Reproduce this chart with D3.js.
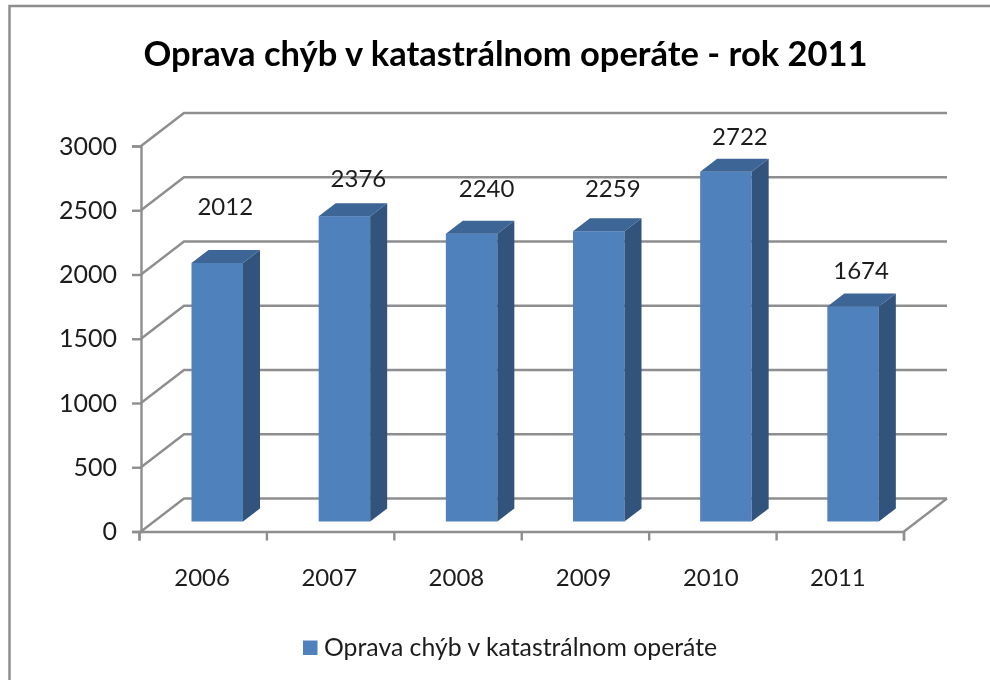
<!DOCTYPE html>
<html>
<head>
<meta charset="utf-8">
<script src="https://cdn.jsdelivr.net/npm/d3@7"></script>
<style>
  html, body { margin: 0; padding: 0; background: #fff; }
  svg { display: block; }
  text { font-family: Lato, "Open Sans", sans-serif; fill: #1c1c1c; }
</style>
</head>
<body>
<svg id="chart" width="990" height="680"></svg>
<script>
const years = ["2006", "2007", "2008", "2009", "2010", "2011"];
const values = [2012, 2376, 2240, 2259, 2722, 1674];
const yTicks = [0, 500, 1000, 1500, 2000, 2500, 3000];
const titleText = "Oprava chýb v katastrálnom operáte - rok 2011";
const seriesName = "Oprava chýb v katastrálnom operáte";

// the labels were placed by hand in the original, so they sit at uneven distances
const labelNudgeX = [8, 14, 15, 14, 14, 8];
const labelNudgeY = [-48, -29, -37, -34, -27, -27];

// 3d look: floor depth and bar depth in pixels
const depth = { x: 43, y: -33 };
const barDepth = { x: 17, y: -13 };
const barInset = { x: 50.5, y: -10 };
const barWidth = 51.5;
const gridColor = "#8e8e8e";

const x = d3.scaleBand().domain(years).range([141, 904]);
const y = d3.scaleLinear().domain([0, 3000]).range([531.5, 146]);

const svg = d3.select("#chart");

const defs = svg.append("defs");
defs.append("filter").attr("id", "soft")
  .append("feGaussianBlur").attr("stdDeviation", 0.45);

const root = svg.append("g").attr("filter", "url(#soft)");

// outer frame, cut off by the picture on the right and at the bottom
root.append("path")
  .attr("d", "M9.5,680V6H990")
  .attr("fill", "none")
  .attr("stroke", gridColor)
  .attr("stroke-width", 2.5);

root.append("text")
  .attr("x", 505.5)
  .attr("y", 66)
  .attr("text-anchor", "middle")
  .style("font-size", "34.5px")
  .style("font-weight", "bold")
  .style("fill", "#000")
  .text(titleText);

// back wall lines with the slanted part running to the front axis
const grid = root.append("g");
grid.selectAll("path")
  .data(yTicks)
  .join("path")
  .attr("d", d => `M${x.range()[0]},${y(d)}l${depth.x},${depth.y}H${x.range()[1] + depth.x}`)
  .attr("fill", "none")
  .attr("stroke", gridColor)
  .attr("stroke-width", 2.4);

// closing edge of the floor on the right
grid.append("path")
  .attr("d", `M${x.range()[1]},${y(0)}l${depth.x},${depth.y}`)
  .attr("fill", "none")
  .attr("stroke", gridColor)
  .attr("stroke-width", 2.4);

const yAxis = root.append("g")
  .attr("transform", `translate(${x.range()[0]},0)`)
  .call(d3.axisLeft(y).tickValues(yTicks).tickFormat(d3.format("d")).tickSize(9).tickPadding(15));

const xScaleTicks = d3.scalePoint().domain(d3.range(years.length + 1)).range([139, 903.5]);
const xAxis = root.append("g")
  .attr("transform", `translate(0,${y(0)})`)
  .call(d3.axisBottom(xScaleTicks).tickFormat("").tickSize(9));

[yAxis, xAxis].forEach(a => {
  a.selectAll("path, line").attr("stroke", gridColor).attr("stroke-width", 2.4);
});
yAxis.selectAll("text").style("font-size", "25px").style("fill", "#1c1c1c");

root.append("g").selectAll("text")
  .data(years)
  .join("text")
  .attr("x", d => x(d) + x.bandwidth() / 2 - 2.5)
  .attr("y", 586)
  .attr("text-anchor", "middle")
  .style("font-size", "24px")
  .text(d => d);

// bars: front, side, top
const rows = years.map((year, i) => ({ year, value: values[i], i }));
const bars = root.append("g").selectAll("g")
  .data(rows)
  .join("g")
  .attr("transform", d => `translate(${x(d.year) + barInset.x},${barInset.y})`);

bars.append("rect")
  .attr("x", 0)
  .attr("y", d => y(d.value))
  .attr("width", barWidth)
  .attr("height", d => y(0) - y(d.value))
  .attr("fill", "#4f81bd");

bars.append("path")
  .attr("d", d => `M${barWidth},${y(d.value)}l${barDepth.x},${barDepth.y}V${y(0) + barDepth.y}l${-barDepth.x},${-barDepth.y}Z`)
  .attr("fill", "#30527b");

bars.append("path")
  .attr("d", d => `M0,${y(d.value)}l${barDepth.x},${barDepth.y}h${barWidth}l${-barDepth.x},${-barDepth.y}Z`)
  .attr("fill", "#3d6595");

bars.append("text")
  .attr("x", d => barWidth / 2 + labelNudgeX[d.i])
  .attr("y", d => y(d.value) + labelNudgeY[d.i])
  .attr("text-anchor", "middle")
  .style("font-size", "24px")
  .text(d => d3.format("d")(d.value));

// legend
const legend = root.append("g");
legend.append("rect")
  .attr("x", 303)
  .attr("y", 640.5)
  .attr("width", 14.5)
  .attr("height", 14.5)
  .attr("fill", "#4f81bd");
legend.append("text")
  .attr("x", 324)
  .attr("y", 655.5)
  .style("font-size", "24.8px")
  .text(seriesName);
</script>
</body>
</html>
